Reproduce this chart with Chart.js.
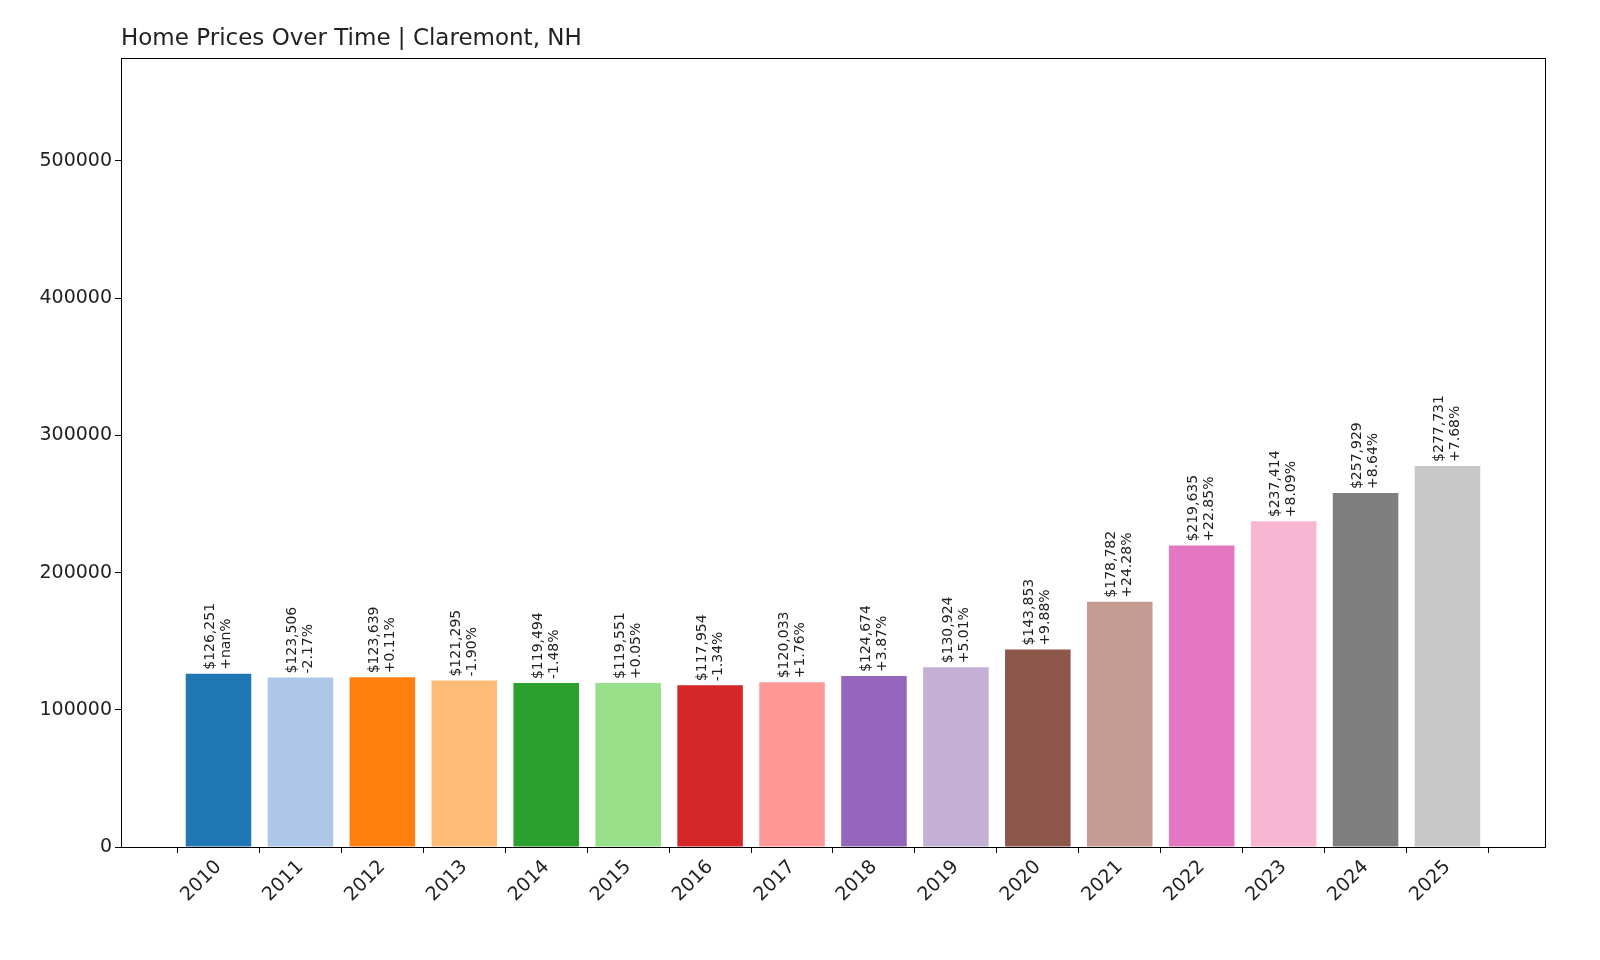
<!DOCTYPE html>
<html><head><meta charset="utf-8">
<script src="https://cdn.jsdelivr.net/npm/chart.js@4"></script>
<style>html,body{margin:0;padding:0;background:#fff;overflow:hidden}#w{width:1600px;height:960px}</style>
</head><body><div id="w"><canvas id="c"></canvas></div>
<script>
const years = ['2010','2011','2012','2013','2014','2015','2016','2017','2018','2019','2020','2021','2022','2023','2024','2025'];
const prices = [126251,123506,123639,121295,119494,119551,117954,120033,124674,130924,143853,178782,219635,237414,257929,277731];
const changes = ['+nan%','-2.17%','+0.11%','-1.90%','-1.48%','+0.05%','-1.34%','+1.76%','+3.87%','+5.01%','+9.88%','+24.28%','+22.85%','+8.09%','+8.64%','+7.68%'];
const colors = ['#1f77b4','#aec7e8','#ff7f0e','#ffbb78','#2ca02c','#98df8a','#d62728','#ff9896','#9467bd','#c5b0d5','#8c564b','#c49c94','#e377c2','#f7b6d2','#7f7f7f','#c7c7c7'];
const yTicks = [0,100000,200000,300000,400000,500000];

const FONT = '"DejaVu Sans", sans-serif';
const labelPlugin = {
  id:'lbl',
  afterDatasetsDraw(chart){
    const ctx = chart.ctx, meta = chart.getDatasetMeta(0);
    ctx.save();
    ctx.fillStyle = '#222';
    ctx.font = '14px ' + FONT;
    meta.data.forEach((b,i)=>{
      const v = prices[i];
      ctx.save();
      ctx.translate(b.x, b.y - 4);
      ctx.rotate(-Math.PI/2);
      ctx.textAlign = 'left';
      ctx.textBaseline = 'middle';
      ctx.fillText('$' + v.toLocaleString('en-US'), 0, -8);
      ctx.fillText(changes[i], 0, 8);
      ctx.restore();
    });
    ctx.font = '23px ' + FONT;
    ctx.fillStyle = '#222';
    ctx.textAlign = 'left';
    ctx.textBaseline = 'alphabetic';
    ctx.fillText('Home Prices Over Time | Claremont, NH', 121, 45);
    const a = chart.chartArea;
    ctx.strokeStyle = '#000'; ctx.lineWidth = 1;
    ctx.strokeRect(a.left+0.5, a.top+0.5, a.right-a.left, a.bottom-a.top);
    ctx.restore();
  }
};

new Chart(document.getElementById('c'), {
  type:'bar',
  data:{datasets:[{data:prices.map((p,i)=>({x:i,y:p})), backgroundColor:colors, barPercentage:0.8, categoryPercentage:1}]},
  options:{
    responsive:true, maintainAspectRatio:false, animation:false,
    layout:{padding:{top:58,right:55,left:0,bottom:0}},
    plugins:{legend:{display:false},tooltip:{enabled:false}},
    scales:{
      x:{type:'linear', min:-1.19, max:16.19, offset:false,
        grid:{display:true, drawOnChartArea:false, tickLength:6, color:'#000'}, border:{display:false},
        afterBuildTicks(s){ s.ticks = years.map((y,i)=>({value:i})); },
        afterFit(s){ s.height = 113; },
        ticks:{autoSkip:false, maxRotation:45, minRotation:45, color:'#222', font:{size:19,family:FONT},
          callback:(v)=>years[v]}
      },
      y:{min:0, max:575000, grid:{display:true, drawOnChartArea:false, tickLength:6, color:'#000'}, border:{display:false},
        afterBuildTicks(s){ s.ticks = yTicks.map(v=>({value:v})); },
        afterFit(s){ s.width = 121; },
        ticks:{color:'#222', font:{size:19,family:FONT}, callback:(v)=>String(v)}
      }
    }
  },
  plugins:[labelPlugin]
});
</script></body></html>
